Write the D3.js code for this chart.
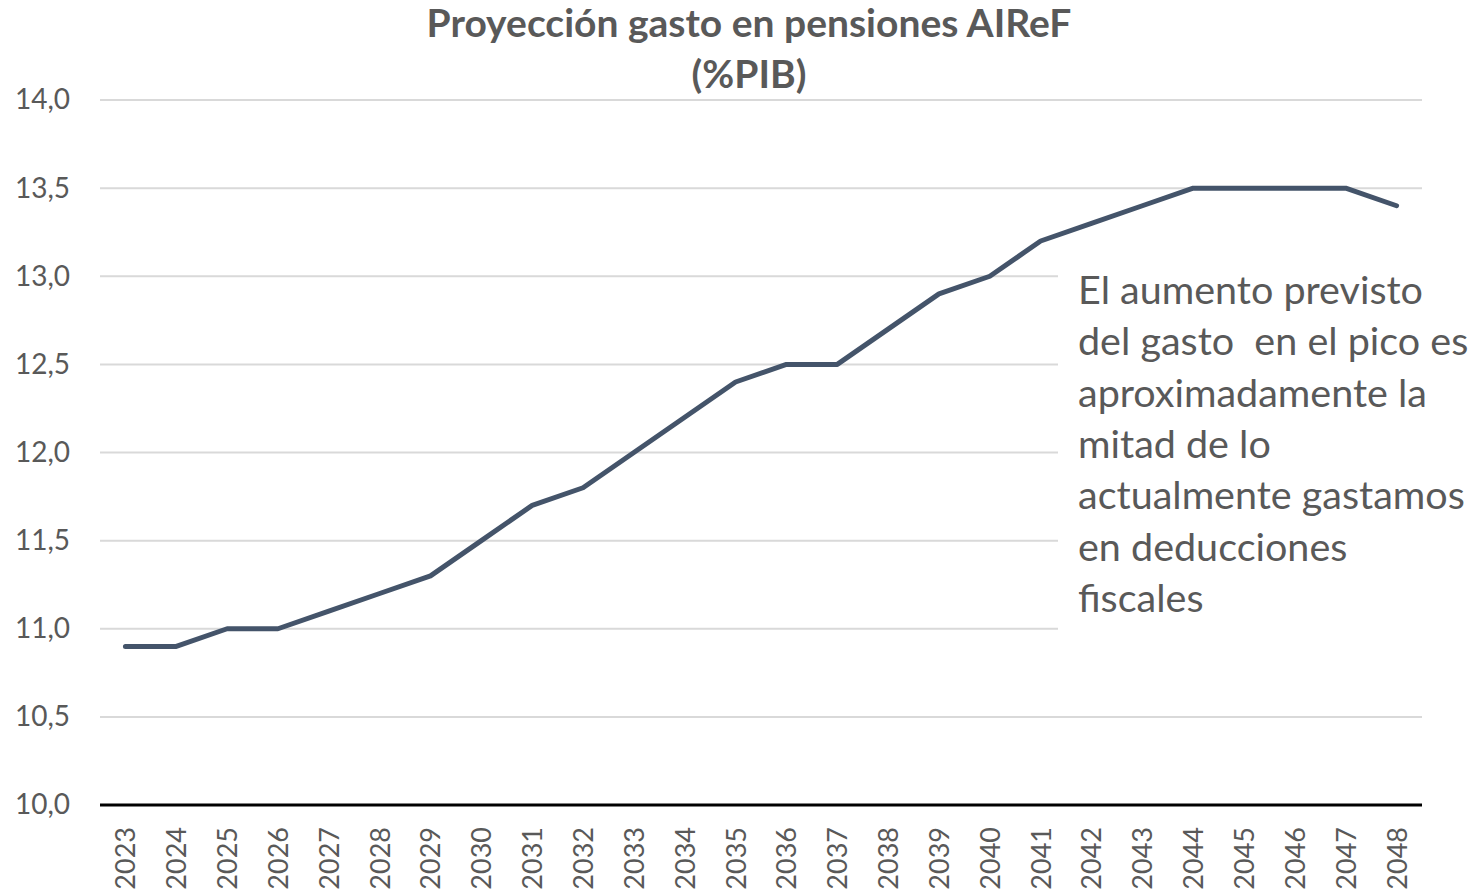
<!DOCTYPE html>
<html><head><meta charset="utf-8">
<script src="https://cdn.jsdelivr.net/npm/d3@7"></script>
<style>body{margin:0;background:#fff}</style>
</head><body>
<svg id="c" width="1483" height="892"></svg>
<script>
const years = ["2023","2024","2025","2026","2027","2028","2029","2030","2031","2032","2033","2034","2035","2036","2037","2038","2039","2040","2041","2042","2043","2044","2045","2046","2047","2048"];
const values = [10.9,10.9,11.0,11.0,11.1,11.2,11.3,11.5,11.7,11.8,12.0,12.2,12.4,12.5,12.5,12.7,12.9,13.0,13.2,13.3,13.4,13.5,13.5,13.5,13.5,13.4];
const yTicks = [10,10.5,11,11.5,12,12.5,13,13.5,14];
const titleLines = ["Proyección gasto en pensiones AIReF","(%PIB)"];
const noteLines = ["El aumento previsto","del gasto  en el pico es","aproximadamente la","mitad de lo","actualmente gastamos","en deducciones","fiscales"];

const font = "Lato, 'Open Sans', sans-serif";
const svg = d3.select("#c");
const L = 100, R = 1422, T = 100, B = 805;
const x = d3.scalePoint().domain(years).range([L, R]).padding(0.5);
const y = d3.scaleLinear().domain([10,14]).range([B, T]);

// gridlines
svg.append("g").selectAll("line").data(yTicks.filter(d=>d>10)).join("line")
  .attr("x1", L).attr("x2", R).attr("y1", d=>y(d)).attr("y2", d=>y(d))
  .attr("stroke", "#d9d9d9").attr("stroke-width", 2);

// y labels
const fmt = d => d3.format(".1f")(d).replace(".", ",");
svg.append("g").attr("transform", `translate(${L},0)`)
  .call(d3.axisLeft(y).tickValues(yTicks).tickFormat(fmt).tickSize(0).tickPadding(30))
  .call(g => g.select(".domain").remove())
  .call(g => g.selectAll("text").attr("font-family", font).attr("font-size", 28).attr("fill", "#595959"));

// x axis
svg.append("g").attr("transform", `translate(0,${B})`)
  .call(d3.axisBottom(x).tickSize(0).tickPadding(0))
  .call(g => g.select(".domain").remove())
  .call(g => g.selectAll("text")
    .attr("font-family", font).attr("font-size", 27).attr("fill", "#595959")
    .attr("transform", "rotate(-90)").attr("text-anchor", "end")
    .attr("x", -22).attr("y", 0).attr("dy", "0.35em"));

svg.append("line").attr("x1", L).attr("x2", R).attr("y1", B).attr("y2", B)
  .attr("stroke", "#000").attr("stroke-width", 3);

// line
svg.append("path").datum(values.map((v,i)=>[years[i], v]))
  .attr("fill", "none").attr("stroke", "#44546A").attr("stroke-width", 5)
  .attr("stroke-linejoin", "round").attr("stroke-linecap", "round")
  .attr("d", d3.line().x(d=>x(d[0])).y(d=>y(d[1])));

// title
svg.append("text").attr("x", 749).attr("text-anchor", "middle")
  .attr("font-family", font).attr("font-weight", "bold").attr("font-size", 39).attr("fill", "#595959")
  .selectAll("tspan").data(titleLines).join("tspan")
  .attr("x", 749).attr("y", (d,i)=>37 + i*51).text(d=>d);

// annotation
svg.append("rect").attr("x", 1058).attr("y", 262).attr("width", 430).attr("height", 374).attr("fill", "#fff");
svg.append("text").attr("font-family", font).attr("font-size", 39.5).attr("fill", "#595959")
  .style("white-space", "pre")
  .selectAll("tspan").data(noteLines).join("tspan")
  .attr("x", 1078).attr("y", (d,i)=>304 + i*51.3).text(d=>d);
</script>
</body></html>
